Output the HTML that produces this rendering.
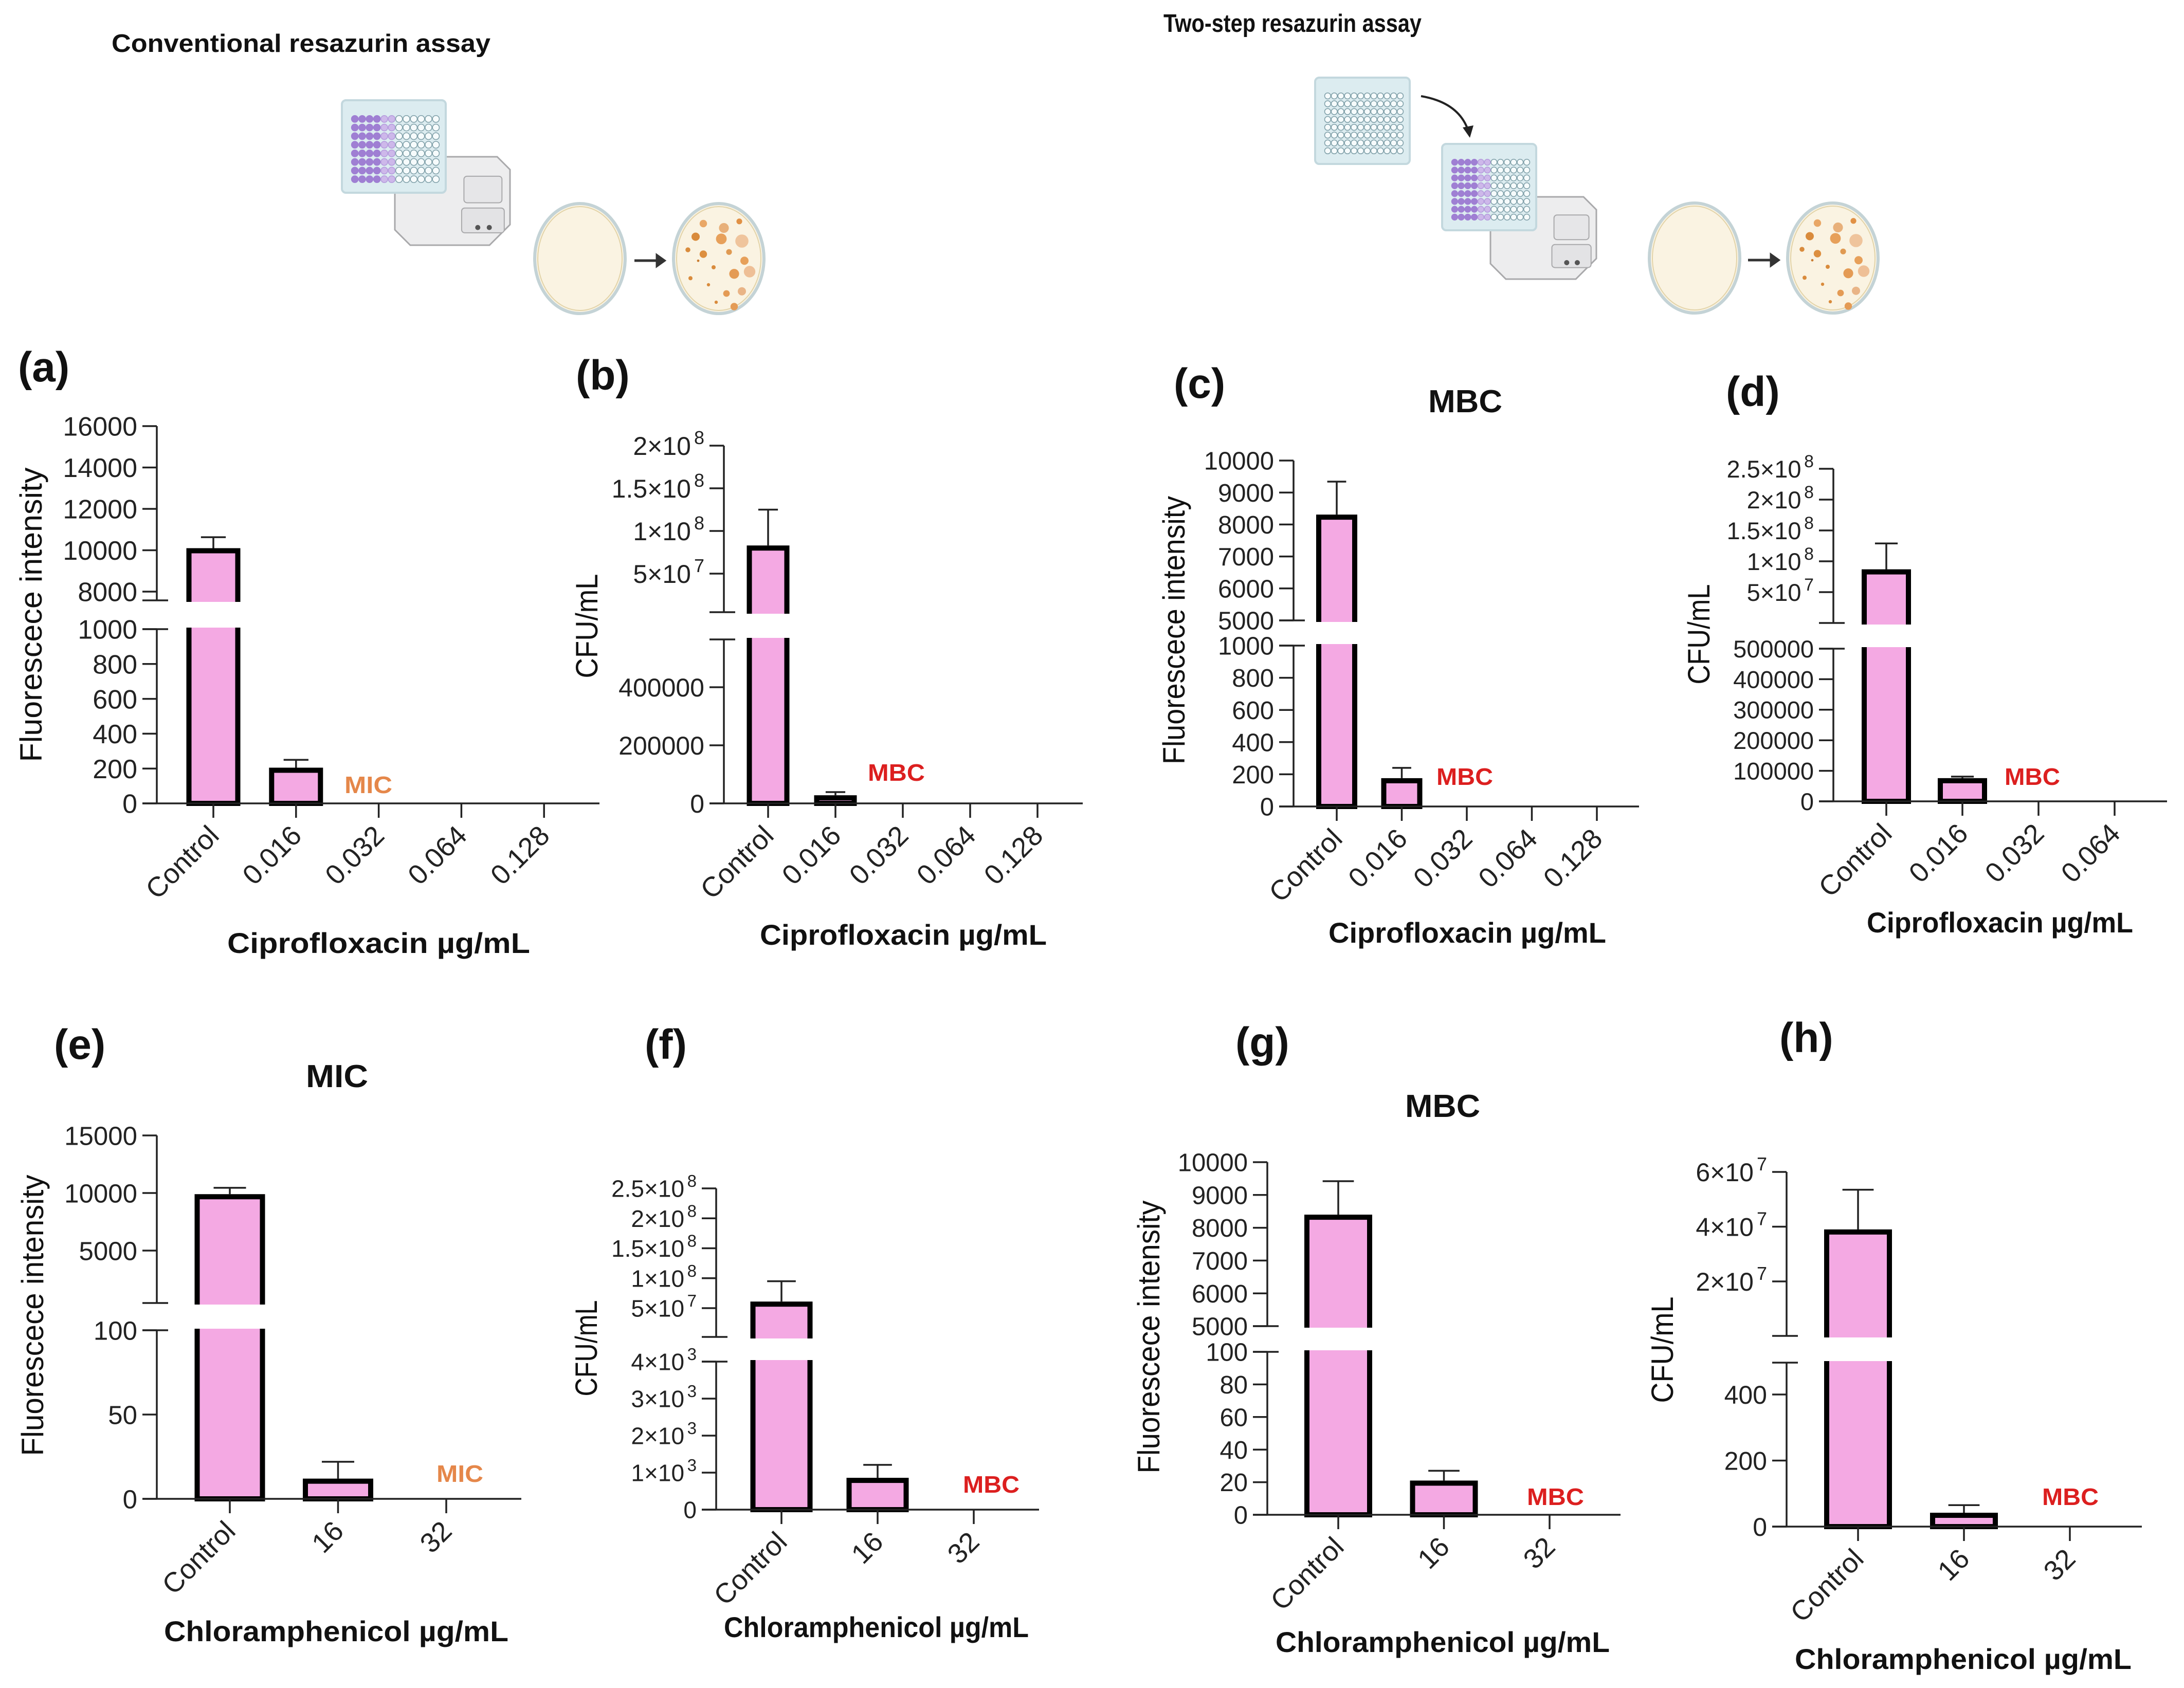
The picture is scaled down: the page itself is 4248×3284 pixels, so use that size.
<!DOCTYPE html>
<html><head><meta charset="utf-8">
<style>
html,body{margin:0;padding:0;background:#fff;}
svg{display:block;font-family:"Liberation Sans",Arial,sans-serif;}
</style></head>
<body>
<svg id="fig" xmlns="http://www.w3.org/2000/svg" width="4248" height="3284" viewBox="0 0 4248 3284">
<rect width="4248" height="3284" fill="#fff"/>
<g id="illus"></g>
<g id="charts"></g>
</svg>
<script>
// ---------- DATA ----------
const aCategories = ['Control','0.016','0.032','0.064','0.128'];
const aValues = [10100, 205, 0, 0, 0];
const aErrors = [530, 45, 0, 0, 0];
const aLowerTicks = [0,200,400,600,800,1000];
const aUpperTicks = [8000,10000,12000,14000,16000];

const bCategories = ['Control','0.016','0.032','0.064','0.128'];
const bValues = [83000000, 28000, 0, 0, 0];
const bErrors = [42000000, 11000, 0, 0, 0];
const bLowerTicks = [0,200000,400000];
const bUpperTicks = [50000000,100000000,150000000,200000000];
const bUpperTickLabels = ['5×10^7','1×10^8','1.5×10^8','2×10^8'];

const cCategories = ['Control','0.016','0.032','0.064','0.128'];
const cValues = [8310, 176, 0, 0, 0];
const cErrors = [1030, 64, 0, 0, 0];
const cLowerTicks = [0,200,400,600,800,1000];
const cUpperTicks = [5000,6000,7000,8000,9000,10000];

const dCategories = ['Control','0.016','0.032','0.064'];
const dValues = [87000000, 76000, 0, 0];
const dErrors = [42000000, 5000, 0, 0];
const dLowerTicks = [0,100000,200000,300000,400000,500000];
const dUpperTicks = [50000000,100000000,150000000,200000000,250000000];
const dUpperTickLabels = ['5×10^7','1×10^8','1.5×10^8','2×10^8','2.5×10^8'];

const eCategories = ['Control','16','32'];
const eValues = [9900, 12, 0];
const eErrors = [550, 10, 0];
const eLowerTicks = [0,50,100];
const eUpperTicks = [5000,10000,15000];

const fCategories = ['Control','16','32'];
const fValues = [61000000, 860, 0];
const fErrors = [34000000, 350, 0];
const fLowerTicks = [0,1000,2000,3000,4000];
const fLowerTickLabels = ['0','1×10^3','2×10^3','3×10^3','4×10^3'];
const fUpperTicks = [50000000,100000000,150000000,200000000,250000000];
const fUpperTickLabels = ['5×10^7','1×10^8','1.5×10^8','2×10^8','2.5×10^8'];

const gCategories = ['Control','16','32'];
const gValues = [8400, 21, 0];
const gErrors = [1020, 6, 0];
const gLowerTicks = [0,20,40,60,80,100];
const gUpperTicks = [5000,6000,7000,8000,9000,10000];

const hCategories = ['Control','16','32'];
const hValues = [39000000, 42, 0];
const hErrors = [14500000, 23, 0];
const hLowerTicks = [0,200,400];
const hUpperTicks = [20000000,40000000,60000000];
const hUpperTickLabels = ['2×10^7','4×10^7','6×10^7'];

// ---------- LAYOUT (pixels) ----------
const panels = [
 {k:'a',cats:aCategories,vals:aValues,errs:aErrors,lo:aLowerTicks,up:aUpperTicks,
  L:{ax:305,axEnd:1166,y0:1563,loRef:[1000,1224],loTop:1224,upRef:[8000,1151,16000,829],upBot:1168,c0:415,dc:160.8,bw:105,fs:52,
  yt:'Fluorescece intensity',ytx:60,yty:1196,ytl:573,xt:'Ciprofloxacin µg/mL',xt1:442,xt2:1031,xty:1834,
  lab:[35,682],ann:'MIC',annc:'#e5874a',annx:[670,763],anny:1543}},
 {k:'b',cats:bCategories,vals:bValues,errs:bErrors,lo:bLowerTicks,up:bUpperTicks,upL:bUpperTickLabels,
  L:{ax:1408,axEnd:2106,y0:1563,loRef:[400000,1337],loTop:1244,upRef:[50000000,1116,200000000,867],upBot:1191,c0:1494,dc:131,bw:83,fs:50,
  yt:'CFU/mL',ytx:1141,yty:1218,ytl:203,xt:'Ciprofloxacin µg/mL',xt1:1478,xt2:2036,xty:1818,
  lab:[1120,698],ann:'MBC',annc:'#dc1f1f',annx:[1688,1799],anny:1519}},
 {k:'c',cats:cCategories,vals:cValues,errs:cErrors,lo:cLowerTicks,up:cUpperTicks,
  L:{ax:2516,axEnd:3188,y0:1569,loRef:[1000,1256],loTop:1256,upRef:[5000,1207,10000,896],upBot:1207,c0:2600,dc:126.5,bw:80,fs:49,
  yt:'Fluorescece intensity',ytx:2283,yty:1226,ytl:522,xt:'Ciprofloxacin µg/mL',xt1:2584,xt2:3124,xty:1814,
  lab:[2283,714],title:'MBC',tx:[2778,2922],ty:780,ann:'MBC',annc:'#dc1f1f',annx:[2794,2904],anny:1527}},
 {k:'d',cats:dCategories,vals:dValues,errs:dErrors,lo:dLowerTicks,up:dUpperTicks,upL:dUpperTickLabels,
  L:{ax:3566,axEnd:4215,y0:1559,loRef:[500000,1262],loTop:1262,upRef:[50000000,1152,250000000,912],upBot:1212,c0:3669,dc:148,bw:96,fs:47,
  yt:'CFU/mL',ytx:3304,yty:1234,ytl:195,xt:'Ciprofloxacin µg/mL',xt1:3631,xt2:4149,xty:1794,
  lab:[3357,730],ann:'MBC',annc:'#dc1f1f',annx:[3899,4007],anny:1527}},
 {k:'e',cats:eCategories,vals:eValues,errs:eErrors,lo:eLowerTicks,up:eUpperTicks,
  L:{ax:305,axEnd:1014,y0:2916,loRef:[100,2588],loTop:2588,upRef:[5000,2433,15000,2209],upBot:2535,c0:447,dc:210.5,bw:137,fs:51,
  yt:'Fluorescece intensity',ytx:63,yty:2559,ytl:547,xt:'Chloramphenicol µg/mL',xt1:319,xt2:989,xty:3173,
  lab:[105,2000],title:'MIC',tx:[595,716],ty:2093,ann:'MIC',annc:'#e5874a',annx:[849,940],anny:2883}},
 {k:'f',cats:fCategories,vals:fValues,errs:fErrors,lo:fLowerTicks,loL:fLowerTickLabels,up:fUpperTicks,upL:fUpperTickLabels,
  L:{ax:1393,axEnd:2021,y0:2937,loRef:[4000,2649],loTop:2649,upRef:[50000000,2545,250000000,2312],upBot:2601,c0:1520,dc:187,bw:121,fs:46,
  yt:'CFU/mL',ytx:1140,yty:2623,ytl:187,xt:'Chloramphenicol µg/mL',xt1:1408,xt2:2001,xty:3165,
  lab:[1254,2000],ann:'MBC',annc:'#dc1f1f',annx:[1873,1983],anny:2904}},
 {k:'g',cats:gCategories,vals:gValues,errs:gErrors,lo:gLowerTicks,up:gUpperTicks,
  L:{ax:2465,axEnd:3152,y0:2947,loRef:[100,2630],loTop:2630,upRef:[5000,2580,10000,2261],upBot:2580,c0:2603,dc:205.5,bw:132,fs:49,
  yt:'Fluorescece intensity',ytx:2234,yty:2601,ytl:531,xt:'Chloramphenicol µg/mL',xt1:2481,xt2:3131,xty:3194,
  lab:[2403,1996],title:'MBC',tx:[2733,2879],ty:2151,ann:'MBC',annc:'#dc1f1f',annx:[2970,3081],anny:2928}},
 {k:'h',cats:hCategories,vals:hValues,errs:hErrors,lo:hLowerTicks,up:hUpperTicks,upL:hUpperTickLabels,
  L:{ax:3475,axEnd:4166,y0:2970,loRef:[400,2713],loTop:2651,upRef:[20000000,2493,60000000,2280],upBot:2599,c0:3614,dc:206,bw:132,fs:50,
  yt:'CFU/mL',ytx:3233,yty:2626,ytl:207,xt:'Chloramphenicol µg/mL',xt1:3491,xt2:4146,xty:3227,
  lab:[3461,1987],ann:'MBC',annc:'#dc1f1f',annx:[3972,4082],anny:2928}}
];

const NS = 'http://www.w3.org/2000/svg';
function mk(tag, attrs, parent){
  const el = document.createElementNS(NS, tag);
  for (const a in attrs) el.setAttribute(a, attrs[a]);
  parent.appendChild(el);
  return el;
}
function setLabel(t, s, fs){
  const parts = s.split('^');
  t.textContent = parts[0];
  if (parts.length > 1){
    const sp = document.createElementNS(NS,'tspan');
    sp.setAttribute('dy', -fs*0.42);
    sp.setAttribute('dx', fs*0.12);
    sp.setAttribute('font-size', fs*0.72);
    sp.textContent = parts[1];
    t.appendChild(sp);
  }
}
const FONT = '"Liberation Sans", Arial, sans-serif';
const charts = document.getElementById('charts');

panels.forEach(p => {
  const L = p.L;
  const g = mk('g', {}, charts);
  
  
  const loScale = v => L.y0 + v * (L.loRef[1] - L.y0) / L.loRef[0];
  const upScale = v => L.upRef[1] + (v - L.upRef[0]) * (L.upRef[3] - L.upRef[1]) / (L.upRef[2] - L.upRef[0]);
  const loTopVal = L.loRef[0] * (L.y0 - L.loTop) / (L.y0 - L.loRef[1]);
  const y = v => v <= loTopVal ? loScale(v) : Math.min(upScale(v), L.upBot);
  const xc = i => L.c0 + i * L.dc;
  const upTopY = upScale(p.up[p.up.length - 1]);

  // panel letter
  const lt = mk('text', {x:L.lab[0], y:L.lab[1] + 60, 'font-size':82, 'font-weight':'bold', fill:'#111'}, g);
  lt.textContent = '(' + p.k + ')';
  
  

  if (L.title){
    const tt = mk('text', {x:(L.tx[0]+L.tx[1])/2, y:L.ty + 22, 'font-size':62, 'font-weight':'bold', 'text-anchor':'middle', fill:'#111', textLength:L.tx[1]-L.tx[0], lengthAdjust:'spacingAndGlyphs'}, g);
    tt.textContent = L.title;
    
    
  }

  // bars
  p.vals.forEach((v, i) => {
    if (v <= 0) return;
    const top = y(v);
    const bar = mk('rect', {x:xc(i) - L.bw/2 + 5, y:top + 5, width:L.bw - 10, height:L.y0 - top - 5, fill:'#f4a9e3', stroke:'#000', 'stroke-width':10}, g);
    
    
    if (v > loTopVal){
      const gap = mk('rect', {x:xc(i) - L.bw/2 - 6, y:L.upBot + 3, width:L.bw + 12, height:L.loTop - L.upBot - 6, fill:'#fff'}, g);
      
      
    }
    const e = p.errs[i];
    if (e > 0){
      const et = y(v + e);
      const eb = mk('path', {d:`M${xc(i)},${top} V${et} M${xc(i) - L.bw*0.23},${et} H${xc(i) + L.bw*0.23}`, stroke:'#222', 'stroke-width':3.5, fill:'none'}, g);
      
      
    }
  });

  // axes
  const axis = mk('path', {d:`M${L.ax},${L.y0} V${L.loTop} M${L.ax},${L.upBot} V${upTopY} M${L.ax-28},${L.y0} H${L.axEnd} M${L.ax-28},${L.loTop} H${L.ax+22} M${L.ax-28},${L.upBot} H${L.ax+22}`, stroke:'#222', 'stroke-width':3.5, fill:'none'}, g);
  
  

  const tickPath = [];
  const addY = (ticks, labels, sc) => {
    ticks.forEach((t, j) => {
      const ty = sc(t);
      tickPath.push(`M${L.ax-28},${ty} H${L.ax}`);
      const tl = mk('text', {x:L.ax - 38, y:ty + L.fs*0.36, 'font-size':L.fs, 'text-anchor':'end', fill:'#222'}, g);
      setLabel(tl, labels ? labels[j] : String(t), L.fs);
      
      
    });
  };
  addY(p.lo, p.loL, loScale);
  addY(p.up, p.upL, upScale);
  p.cats.forEach((c, i) => {
    tickPath.push(`M${xc(i)},${L.y0} V${L.y0 + 28}`);
    const xl = mk('text', {x:0, y:0, 'font-size':54, 'text-anchor':'end', fill:'#222', transform:`translate(${xc(i) + 14},${L.y0 + 66}) rotate(-45)`}, g);
    xl.textContent = c;
    
    
  });
  const tp = mk('path', {d:tickPath.join(' '), stroke:'#222', 'stroke-width':3.5, fill:'none'}, g);
  
  

  // axis titles
  const yt = mk('text', {x:0, y:0, 'font-size':60, 'text-anchor':'middle', fill:'#111', textLength:L.ytl, lengthAdjust:'spacingAndGlyphs', transform:`translate(${L.ytx + 21},${L.yty}) rotate(-90)`}, g);
  yt.textContent = L.yt;
  
  
  const xt = mk('text', {x:(L.xt1 + L.xt2)/2, y:L.xty + 20, 'font-size':56, 'font-weight':'bold', 'text-anchor':'middle', fill:'#111', textLength:L.xt2 - L.xt1, lengthAdjust:'spacingAndGlyphs'}, g);
  xt.textContent = L.xt;
  
  

  // annotation
  const an = mk('text', {x:L.annx[0], y:L.anny, 'font-size':46, 'font-weight':'bold', fill:L.annc, textLength:L.annx[1]-L.annx[0], lengthAdjust:'spacingAndGlyphs'}, g);
  an.textContent = L.ann;
  
  
});

// ---------- ILLUSTRATIONS ----------
const il = document.getElementById('illus');
function title(x, y, w, s){
  const t = mk('text', {x:x, y:y, 'font-size':49, 'font-weight':'bold', fill:'#111', textLength:w, lengthAdjust:'spacingAndGlyphs'}, il);
  t.textContent = s;
  
  
}
title(217, 101, 737, 'Conventional resazurin assay');
title(2263, 62, 502, 'Two-step   resazurin assay');

function plate(x, y, w, h, purple){
  const g = mk('g', {}, il);
  
  
  mk('rect', {x:x, y:y, width:w, height:h, rx:8, fill:'#dcecf0', stroke:'#c3d8de', 'stroke-width':4}, g);
  const cols = 12, rows = 8, px = x + 18, py = y + 28, cw = (w - 30)/cols, ch = (h - 46)/rows;
  const r = Math.min(cw, ch) * 0.46;
  for (let rr = 0; rr < rows; rr++) for (let cc = 0; cc < cols; cc++){
    let f = '#f6fbfc', s = '#7f9fa8';
    if (purple){
      if (cc < 4){ f = '#9f7fd3'; s = '#9f7fd3'; }
      else if (cc < 6){ f = '#cdb8ea'; s = '#b49bdc'; }
    }
    mk('circle', {cx:px + cc*cw + cw/2, cy:py + rr*ch + ch/2, r:r, fill:f, stroke:s, 'stroke-width':1.5}, g);
  }
}
function reader(x, y, w, h){
  const g = mk('g', {}, il);
  
  
  mk('path', {d:`M${x},${y+30} L${x+30},${y} H${x+w-25} L${x+w},${y+25} V${y+h-40} L${x+w-40},${y+h} H${x+30} L${x},${y+h-30} Z`, fill:'#ededee', stroke:'#a9a9ab', 'stroke-width':3}, g);
  mk('rect', {x:x + w*0.6, y:y + h*0.22, width:w*0.33, height:h*0.3, rx:6, fill:'#e6e6e8', stroke:'#a9a9ab', 'stroke-width':2}, g);
  mk('rect', {x:x + w*0.58, y:y + h*0.58, width:w*0.37, height:h*0.28, rx:6, fill:'#e3e3e5', stroke:'#a9a9ab', 'stroke-width':2}, g);
  mk('circle', {cx:x + w*0.72, cy:y + h*0.8, r:5, fill:'#555'}, g);
  mk('circle', {cx:x + w*0.82, cy:y + h*0.8, r:5, fill:'#555'}, g);
}
const colonies = [[-30,-80,9,'#e9a766'],[10,-70,12,'#e8b07a'],[40,-85,7,'#e19145'],[-45,-50,10,'#d98b3c'],[5,-45,13,'#e7a05a'],[45,-40,16,'#efc49c'],
 [-60,-20,6,'#d98b3c'],[-30,-10,9,'#dd8f3f'],[20,-15,7,'#e09a52'],[50,5,10,'#e7a05a'],[-10,20,5,'#d98b3c'],[30,35,12,'#e49b55'],[60,30,14,'#eebf96'],
 [-55,45,5,'#d98b3c'],[-20,60,4,'#d98b3c'],[15,80,8,'#e49b55'],[45,75,10,'#e9b486'],[-5,100,4,'#d98b3c'],[30,110,9,'#e49b55'],[-40,5,3,'#c97c30']];
function dish(cx, cy, col){
  const g = mk('g', {}, il);
  
  
  mk('ellipse', {cx:cx, cy:cy, rx:88, ry:107, fill:'#faf3e2', stroke:'#c4d3d6', 'stroke-width':6}, g);
  mk('ellipse', {cx:cx, cy:cy, rx:82, ry:101, fill:'none', stroke:'#e2d3a8', 'stroke-width':2}, g);
  if (col) colonies.forEach(c => mk('circle', {cx:cx + c[0], cy:cy + c[1]*0.85, r:c[2]*0.8, fill:c[3]}, g));
}
function arrow(x1, x2, yy){
  const a = mk('path', {d:`M${x1},${yy} H${x2-12} M${x2-14},${yy-10} L${x2},${yy} L${x2-14},${yy+10} Z`, stroke:'#333', 'stroke-width':5, fill:'#333'}, il);
  
  
}
// conventional
reader(768, 305, 224, 172);
plate(665, 195, 202, 180, true);
dish(1128, 503, false);
arrow(1234, 1292, 507);
dish(1398, 503, true);
// two-step
plate(2558, 151, 184, 168, false);
const ca = mk('path', {d:'M2764,187 Q2840,200 2857,258', stroke:'#222', 'stroke-width':4, fill:'none'}, il);


const cah = mk('path', {d:'M2845,248 L2859,268 L2866,244 Z', fill:'#222'}, il);


reader(2899, 383, 206, 160);
plate(2805, 280, 183, 168, true);
dish(3296, 502, false);
arrow(3400, 3459, 506);
dish(3565, 502, true);
</script>
</body></html>
